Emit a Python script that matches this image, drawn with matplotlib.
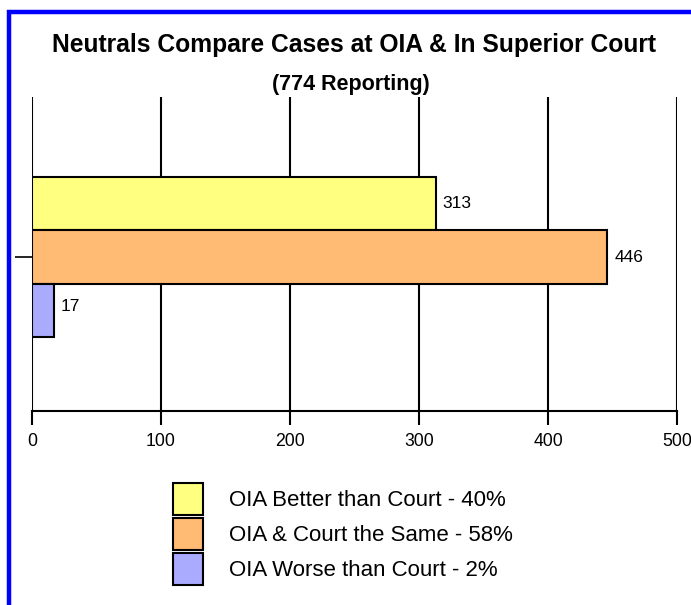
import matplotlib
matplotlib.use("Agg")
import matplotlib.pyplot as plt
from matplotlib.patches import Patch, Rectangle

plt.rcParams['font.family'] = ['Liberation Sans', 'DejaVu Sans']

labels = ["OIA Better than Court - 40%", "OIA & Court the Same - 58%", "OIA Worse than Court - 2%"]
values = [313, 446, 17]
colors = ["#FFFF80", "#FFBA73", "#AAAAFF"]
xticks = [0, 100, 200, 300, 400, 500]
title = "Neutrals Compare Cases at OIA & In Superior Court"
subtitle = "(774 Reporting)"

W, H = 691, 605
fig = plt.figure(figsize=(W / 100, H / 100), dpi=100)
fig.patch.set_facecolor("white")

# axes in pixel coords: left 32, right 677, top 97, bottom 411
ax = fig.add_axes([32 / W, 1 - 411 / H, (677 - 32) / W, (411 - 97) / H])

bh = 0.17
offsets = [bh, 0, -bh]
for v, c, o in zip(values, colors, offsets):
    ax.barh(o, v, height=bh, color=c, edgecolor="black", linewidth=1.5, zorder=3)
    dy = 3 if v < 50 else 0
    ax.annotate(str(v), xy=(v, o), xytext=(5, dy), textcoords="offset points",
                va="center", ha="left", fontsize=12.5, zorder=4)

ax.set_xlim(0, 500)
ax.set_ylim(-0.49, 0.51)
ax.set_xticks(xticks)
ax.set_xticklabels([str(t) for t in xticks], fontsize=12.7)
ax.set_yticks([0])
ax.set_yticklabels([""])
ax.grid(axis="x", color="black", linewidth=1.5, zorder=1)
for s in ["top", "right", "left"]:
    ax.spines[s].set_visible(False)
ax.spines["bottom"].set_linewidth(1.5)
ax.tick_params(axis="x", length=10, width=1.5, pad=6)
ax.tick_params(axis="y", length=12, width=1.2)

fig.text(354 / W, 1 - 52 / H, title, ha="center", va="baseline", fontsize=17.7, fontweight="bold")
fig.text(351 / W, 1 - 90 / H, subtitle, ha="center", va="baseline", fontsize=15.5, fontweight="bold")

handles = [Patch(facecolor=c, edgecolor="black", linewidth=1.5) for c in colors]
fig.legend(handles, labels, loc="upper left", bbox_to_anchor=(173 / W, 1 - 483 / H),
           frameon=False, fontsize=16, handlelength=1.35, handleheight=1.84,
           labelspacing=0.135, handletextpad=1.17, borderaxespad=0, borderpad=0)

# blue border
fig.patches.append(Rectangle((8.8 / W, -0.1), 1.2, 1 - 11.7 / H + 0.1, transform=fig.transFigure,
                             fill=False, edgecolor="#0000FF", linewidth=3.2, zorder=0))

fig.savefig("out.png", dpi=100)
